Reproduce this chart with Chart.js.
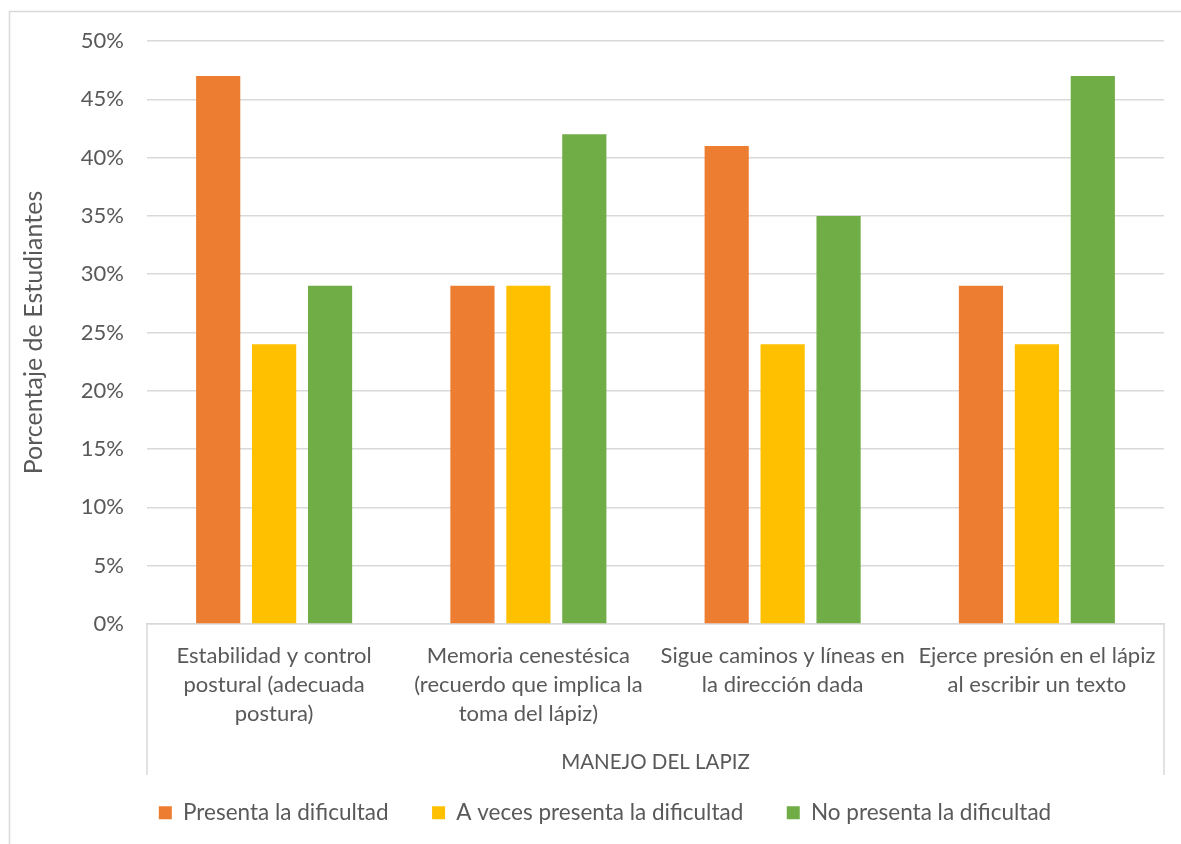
<!DOCTYPE html>
<html>
<head>
<meta charset="utf-8">
<title>Manejo del lápiz</title>
<script src="https://cdn.jsdelivr.net/npm/chart.js@4.4.1/dist/chart.umd.min.js"></script>
<style>
  html, body { margin: 0; padding: 0; background: #fff; }
  canvas { display: block; }
</style>
</head>
<body>
<canvas id="canvas" width="1181" height="844"></canvas>
<script>
var categorias = [
  ['Estabilidad y control', 'postural (adecuada', 'postura)'],
  ['Memoria cenestésica', '(recuerdo que implica la', 'toma del lápiz)'],
  ['Sigue caminos y líneas en', 'la dirección dada'],
  ['Ejerce presión en el lápiz', 'al escribir un texto']
];
var grupo = 'MANEJO DEL LAPIZ';
var presenta = [47, 29, 41, 29];
var aVeces = [24, 29, 24, 24];
var noPresenta = [29, 42, 35, 47];

var gris = '#595959';
var linea = '#d9d9d9';
var fuente = 'Lato';

// marco exterior, separadores del eje x y etiqueta del grupo
var marcoEje = {
  id: 'marcoEje',
  afterLayout: function(chart) {
    // la leyenda va algo desplazada a la derecha
    chart.legend.left += 23;
    chart.legend.right += 23;
  },
  beforeDraw: function(chart) {
    var ctx = chart.ctx;
    ctx.save();
    ctx.fillStyle = '#fff';
    ctx.fillRect(0, 0, chart.width, chart.height);
    ctx.strokeStyle = linea;
    ctx.lineWidth = 1.5;
    ctx.strokeRect(9.5, 11.5, chart.width + 20, chart.height + 20);
    ctx.restore();
  },
  afterDraw: function(chart) {
    var ctx = chart.ctx;
    var area = chart.chartArea;
    var fondo = area.bottom + 151;
    ctx.save();
    ctx.strokeStyle = linea;
    ctx.lineWidth = 1.5;
    ctx.beginPath();
    ctx.moveTo(area.left, area.bottom);
    ctx.lineTo(area.left, fondo);
    ctx.moveTo(area.right, area.bottom);
    ctx.lineTo(area.right, fondo);
    ctx.stroke();
    ctx.fillStyle = gris;
    ctx.font = '20.5px ' + fuente;
    ctx.textAlign = 'center';
    ctx.textBaseline = 'middle';
    ctx.fillText(grupo, (area.left + area.right) / 2, area.bottom + 138);
    ctx.restore();
  }
};

window.onload = function() {
  var ctx = document.getElementById('canvas').getContext('2d');
  window.myBar = new Chart(ctx, {
    type: 'bar',
    data: {
      labels: categorias,
      datasets: [{
        label: 'Presenta la dificultad',
        backgroundColor: '#ED7D31',
        data: presenta
      }, {
        label: 'A veces presenta la dificultad',
        backgroundColor: '#FFC000',
        data: aVeces
      }, {
        label: 'No presenta la dificultad',
        backgroundColor: '#70AD47',
        data: noPresenta
      }]
    },
    options: {
      responsive: false,
      devicePixelRatio: 1,
      animation: false,
      categoryPercentage: 0.66,
      barPercentage: 0.79,
      layout: { padding: { top: 41, right: 17, bottom: 10, left: 0 } },
      plugins: {
        tooltip: { enabled: false },
        legend: {
          position: 'bottom',
          labels: {
            boxWidth: 13,
            boxHeight: 13,
            padding: 43.5,
            color: gris,
            font: { family: fuente, size: 22.5 }
          }
        }
      },
      scales: {
        x: {
          grid: { display: false },
          border: { display: true, color: linea, width: 1.5 },
          ticks: {
            color: gris,
            autoSkip: false,
            maxRotation: 0,
            padding: 10,
            font: { family: fuente, size: 22, lineHeight: 1.3 }
          },
          afterFit: function(scale) { scale.height = 134; }
        },
        y: {
          min: 0,
          max: 50,
          grid: { color: linea, lineWidth: 1.5, drawTicks: false },
          border: { display: false },
          ticks: {
            stepSize: 5,
            color: gris,
            padding: 23,
            font: { family: fuente, size: 22 },
            callback: function(v) { return v + '%'; }
          },
          title: {
            display: true,
            text: 'Porcentaje de Estudiantes',
            color: gris,
            padding: { top: 19, bottom: 0 },
            font: { family: fuente, size: 25 }
          },
          afterFit: function(scale) { scale.width = 147; }
        }
      }
    },
    plugins: [marcoEje]
  });
};
</script>
</body>
</html>
